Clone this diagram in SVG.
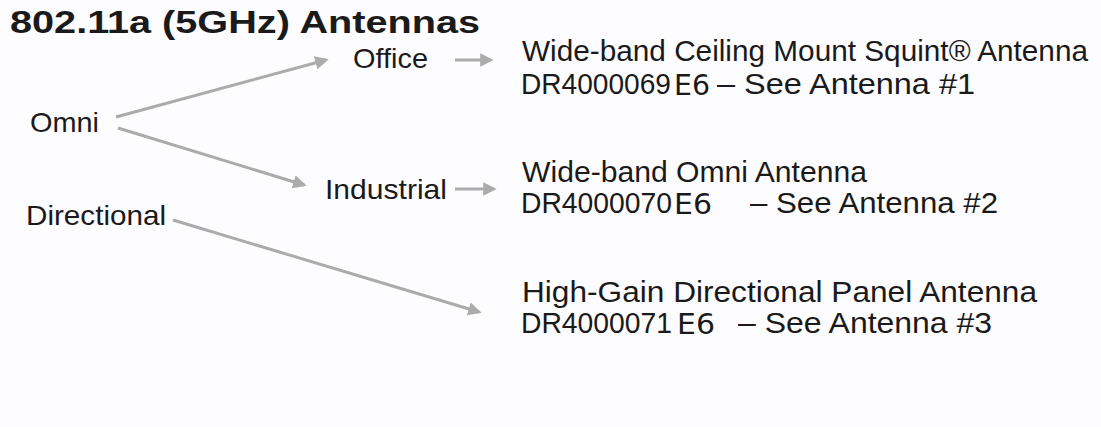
<svg xmlns="http://www.w3.org/2000/svg" width="1101" height="427" viewBox="0 0 1101 427">
<style>
text{font-family:"Liberation Sans",Arial,sans-serif;fill:#1a1a1a}
.title{font-size:32px;font-weight:bold}
.lbl{font-size:28px}
.desc{font-size:29px}
.e6{font-family:"DejaVu Sans",sans-serif;font-size:29px}
.conn{stroke:#ababab;stroke-width:3;fill:none;marker-end:url(#ah)}
</style>
<defs>
<marker id="ah" viewBox="0 0 10 10" refX="8" refY="5" markerWidth="4.5" markerHeight="4.5" orient="auto" markerUnits="strokeWidth">
<path d="M0,0 L10,5 L0,10 z" fill="#ababab"/>
</marker>
</defs>
<rect width="1101" height="427" fill="#fdfcfe"/>
<g id="title"><text class="title" x="10" y="33" textLength="470" lengthAdjust="spacingAndGlyphs">802.11a (5GHz) Antennas</text></g>
<g id="connectors">
<line class="conn" x1="116" y1="117" x2="326" y2="60"/>
<line class="conn" x1="118" y1="128" x2="304" y2="185"/>
<line class="conn" x1="173" y1="220" x2="479" y2="312"/>
<line class="conn" x1="455" y1="60" x2="491" y2="60"/>
<line class="conn" x1="455" y1="189" x2="494" y2="189"/>
</g>
<g id="omni"><text class="lbl" x="30" y="132" textLength="69" lengthAdjust="spacingAndGlyphs">Omni</text></g>
<g id="directional"><text class="lbl" x="26" y="225" textLength="140" lengthAdjust="spacingAndGlyphs">Directional</text></g>
<g id="office"><text class="lbl" x="353" y="68" textLength="75" lengthAdjust="spacingAndGlyphs">Office</text></g>
<g id="industrial"><text class="lbl" x="325" y="199" textLength="122" lengthAdjust="spacingAndGlyphs">Industrial</text></g>
<g id="antenna1">
<text class="desc" x="522" y="61" textLength="566" lengthAdjust="spacingAndGlyphs">Wide-band Ceiling Mount Squint® Antenna</text>
<text class="desc" x="521" y="94" textLength="150" lengthAdjust="spacingAndGlyphs">DR4000069</text>
<text class="e6" x="674" y="95" textLength="36" lengthAdjust="spacingAndGlyphs">E6</text>
<text class="desc" x="717" y="94" textLength="258" lengthAdjust="spacingAndGlyphs">– See Antenna #1</text>
</g>
<g id="antenna2">
<text class="desc" x="522" y="182" textLength="345" lengthAdjust="spacingAndGlyphs">Wide-band Omni Antenna</text>
<text class="desc" x="521" y="213" textLength="151" lengthAdjust="spacingAndGlyphs">DR4000070</text>
<text class="e6" x="674" y="214" textLength="38" lengthAdjust="spacingAndGlyphs">E6</text>
<text class="desc" x="750" y="213" textLength="248" lengthAdjust="spacingAndGlyphs">– See Antenna #2</text>
</g>
<g id="antenna3">
<text class="desc" x="522" y="302" textLength="515" lengthAdjust="spacingAndGlyphs">High-Gain Directional Panel Antenna</text>
<text class="desc" x="521" y="333" textLength="151" lengthAdjust="spacingAndGlyphs">DR4000071</text>
<text class="e6" x="677" y="334" textLength="38" lengthAdjust="spacingAndGlyphs">E6</text>
<text class="desc" x="738" y="333" textLength="254" lengthAdjust="spacingAndGlyphs">– See Antenna #3</text>
</g>
</svg>
